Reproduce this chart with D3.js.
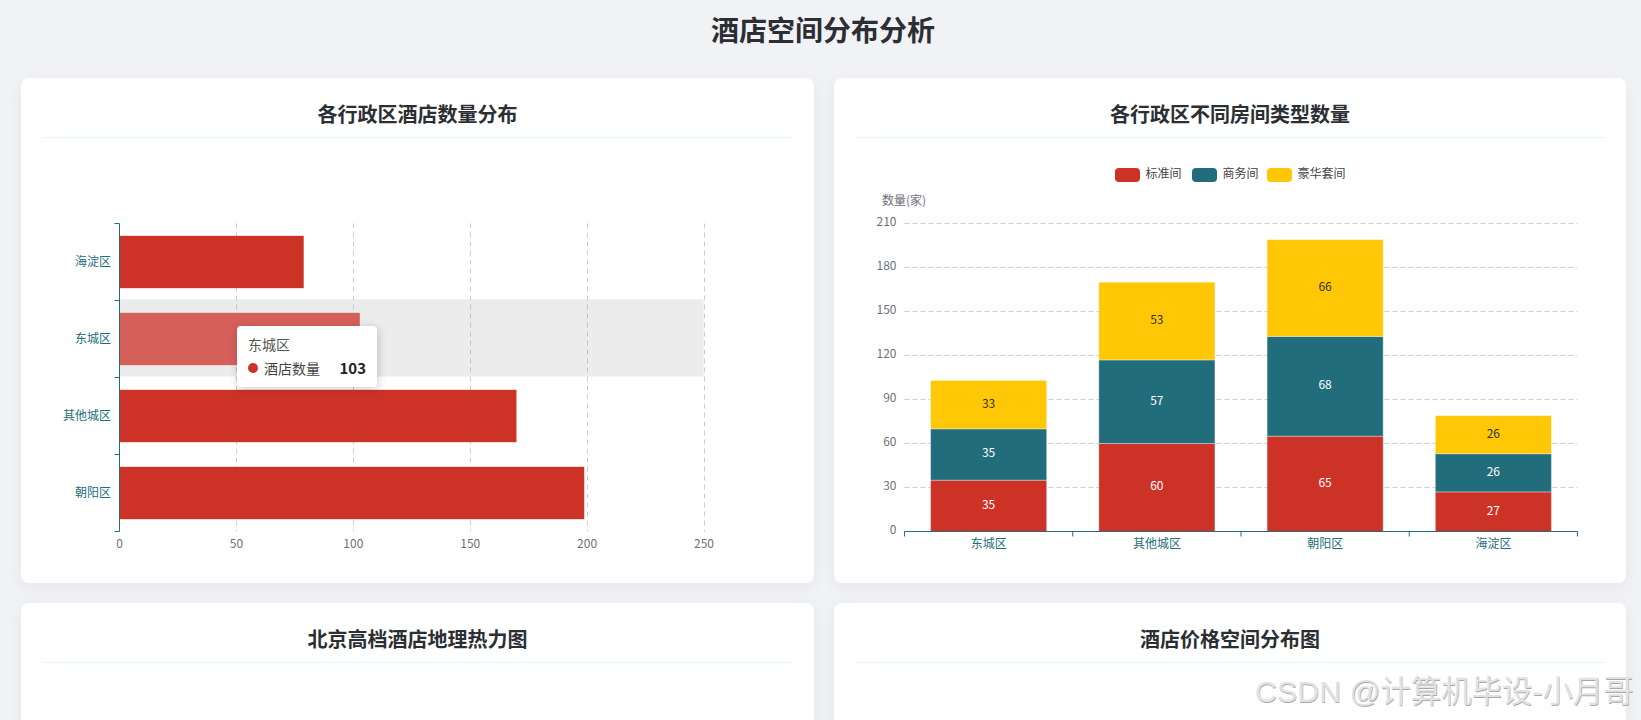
<!DOCTYPE html>
<html lang="zh">
<head>
<meta charset="utf-8">
<title>酒店空间分布分析</title>
<script src="https://cdn.jsdelivr.net/npm/d3@7"></script>
<style>
  html, body { margin: 0; padding: 0; width: 1641px; height: 720px; overflow: hidden; background: #f0f2f6; }
  body { position: relative; font-family: "Noto Sans CJK SC", "Noto Sans", sans-serif; color: #2b2f33; }
  h1 { position: absolute; left: 0; width: 1646px; top: 10px; margin: 0; text-align: center; font-size: 28px; line-height: 38px; font-weight: 700; }
  .card { position: absolute; background: #fff; border-radius: 8px; box-shadow: 0 4px 16px rgba(0,0,0,.05); }
  .card h2 { position: absolute; left: 21px; right: 21px; top: 23px; height: 36px; margin: 0; border-bottom: 1px solid #e3f6f8; text-align: center; font-size: 20px; line-height: 26px; font-weight: 700; }
  svg { position: absolute; left: 0; top: 0; }
  svg text { font-family: "Noto Sans CJK SC", "Noto Sans", sans-serif; font-size: 12px; }
  #tooltip { position: absolute; left: 237px; top: 326px; width: 140px; height: 61px; background: #fff; border-radius: 4px; box-shadow: 1px 2px 10px rgba(0,0,0,.2); font-size: 14px; }
  #tooltip .name { position: absolute; left: 11px; top: 8px; line-height: 20px; color: #555; }
  #tooltip .dot { position: absolute; left: 11px; top: 37px; width: 10px; height: 10px; border-radius: 50%; }
  #tooltip .series { position: absolute; left: 27px; top: 32px; line-height: 20px; color: #444; }
  #tooltip .val { position: absolute; right: 11px; top: 32px; line-height: 20px; color: #222; font-weight: 700; font-size: 15px; }
  #watermark { position: absolute; left: 1255px; top: 671px; font-family: "Liberation Sans", "Noto Sans CJK SC", sans-serif; font-size: 30.4px; line-height: 40px; white-space: nowrap; color: #e2e2e2; text-shadow: 0.6px 0.6px 0.6px #a8a8a8; }
</style>
</head>
<body>
<script>
const pageTitle = "酒店空间分布分析";
const cardTitles = ["各行政区酒店数量分布", "各行政区不同房间类型数量", "北京高档酒店地理热力图", "酒店价格空间分布图"];

// bar chart, bottom to top
const countDistricts = ["朝阳区", "其他城区", "东城区", "海淀区"];
const countValues = [199, 170, 103, 79];
const countTicks = [0, 50, 100, 150, 200, 250];
const hoverDistrict = "东城区";

// stacked chart
const roomDistricts = ["东城区", "其他城区", "朝阳区", "海淀区"];
const roomTypes = ["标准间", "商务间", "豪华套间"];
const standardRooms = [35, 60, 65, 27];
const businessRooms = [35, 57, 68, 26];
const luxuryRooms = [33, 53, 66, 26];
const roomTicks = [0, 30, 60, 90, 120, 150, 180, 210];
const roomSeries = [standardRooms, businessRooms, luxuryRooms];

const red = "#cd3227";
const teal = "#226d7c";
const yellow = "#ffc706";
const gray = "#6e7079";
const typeColors = [red, teal, yellow];
const labelColors = ["#fff", "#fff", "#333"];

const body = d3.select("body");
body.append("h1").text(pageTitle);

const cards = [
  { x: 21, y: 78, w: 793, h: 505 },
  { x: 834, y: 78, w: 792, h: 505 },
  { x: 21, y: 603, w: 793, h: 300 },
  { x: 834, y: 603, w: 792, h: 300 }
];
cards.forEach(function(c, i) {
  body.append("div").attr("class", "card")
    .style("left", c.x + "px").style("top", c.y + "px")
    .style("width", c.w + "px").style("height", c.h + "px")
    .append("h2").text(cardTitles[i]);
});

const svg = body.append("svg").attr("width", 1641).attr("height", 720);

function styleAxis(g, color) {
  g.selectAll("path, line").attr("stroke", color);
  g.selectAll("text").attr("fill", color);
}

/* ---- left: horizontal bars ---- */
const x1 = d3.scaleLinear().domain([0, 250]).range([119, 703.5]);
const y1 = d3.scaleBand().domain(countDistricts).range([531.5, 223.5]).paddingInner(0.32).paddingOuter(0.16);
const left = svg.append("g");

left.append("g").selectAll("line").data(countTicks.slice(1)).enter().append("line")
  .attr("x1", d => Math.round(x1(d)) + 0.5).attr("x2", d => Math.round(x1(d)) + 0.5)
  .attr("y1", 223.5).attr("y2", 531.5)
  .attr("stroke", "#ccc").attr("stroke-dasharray", "5,4");

// hover shadow behind the 东城区 bar
left.append("rect")
  .attr("x", x1(0)).attr("width", x1(250) - x1(0))
  .attr("y", y1(hoverDistrict) + y1.bandwidth() / 2 - y1.step() / 2 - 1)
  .attr("height", y1.step())
  .attr("fill", "#969696").attr("fill-opacity", 0.18);

left.append("g").selectAll("rect").data(countDistricts).enter().append("rect")
  .attr("x", x1(0))
  .attr("y", d => y1(d))
  .attr("width", (d, i) => x1(countValues[i]) - x1(0))
  .attr("height", y1.bandwidth())
  .attr("fill", d => d === hoverDistrict ? "#d5605a" : red);

const axisX1 = left.append("g").attr("transform", "translate(0,531.5)")
  .call(d3.axisBottom(x1).tickValues(countTicks).tickSize(0).tickPadding(8));
axisX1.select("path").remove();
styleAxis(axisX1, gray);

// d3 adds its own half pixel to the domain path
const axisY1 = left.append("g").attr("transform", "translate(119,0)")
  .call(d3.axisLeft(y1).tickSize(0).tickPadding(8));
axisY1.select("path").attr("d", "M0.5,223.5V531.5");
styleAxis(axisY1, teal);
// ticks sit between the categories
left.append("g").selectAll("line")
  .data(d3.range(countDistricts.length + 1)).enter().append("line")
  .attr("x1", 114.5).attr("x2", 119.5)
  .attr("y1", i => 531.5 - i * y1.step()).attr("y2", i => 531.5 - i * y1.step())
  .attr("stroke", teal);

/* ---- right: stacked bars ---- */
const x2 = d3.scaleBand().domain(roomDistricts).range([904.5, 1577.5]).paddingInner(0.31).paddingOuter(0.155);
const y2 = d3.scaleLinear().domain([0, 210]).range([531.5, 223.5]);
const right = svg.append("g");

right.append("g").selectAll("line").data(roomTicks.slice(1)).enter().append("line")
  .attr("x1", 904.5).attr("x2", 1577.5)
  .attr("y1", d => y2(d)).attr("y2", d => y2(d))
  .attr("stroke", "#ccc").attr("stroke-dasharray", "5,3");

const stacked = d3.stack().keys(d3.range(roomTypes.length)).value((d, k) => roomSeries[k][d])(d3.range(roomDistricts.length));

const layers = right.selectAll(".layer").data(stacked).enter().append("g").attr("class", "layer");
layers.selectAll("rect").data(d => d).enter().append("rect")
  .attr("x", d => x2(roomDistricts[d.data]))
  .attr("width", x2.bandwidth())
  .attr("y", d => y2(d[1]))
  .attr("height", d => y2(d[0]) - y2(d[1]))
  .attr("fill", function() { return typeColors[d3.select(this.parentNode).datum().key]; })
  .attr("stroke", "#fff").attr("stroke-opacity", 0.35);

layers.selectAll("text").data(d => d).enter().append("text")
  .attr("x", d => x2(roomDistricts[d.data]) + x2.bandwidth() / 2)
  .attr("y", d => (y2(d[0]) + y2(d[1])) / 2)
  .attr("dy", "0.24em")
  .attr("text-anchor", "middle")
  .attr("fill", function() { return labelColors[d3.select(this.parentNode).datum().key]; })
  .text(d => d[1] - d[0]);

const axisY2 = right.append("g").attr("transform", "translate(904.5,0)")
  .call(d3.axisLeft(y2).tickValues(roomTicks).tickSize(0).tickPadding(8));
axisY2.select("path").remove();
axisY2.selectAll("text").attr("dy", "0.2em");
styleAxis(axisY2, gray);

const axisX2 = right.append("g").attr("transform", "translate(0,531.5)")
  .call(d3.axisBottom(x2).tickSize(0).tickPadding(8));
axisX2.select("path").attr("d", "M904.5,0H1577.5");
styleAxis(axisX2, teal);
right.append("g").selectAll("line")
  .data(d3.range(roomDistricts.length + 1)).enter().append("line")
  .attr("x1", i => 904.5 + i * x2.step()).attr("x2", i => 904.5 + i * x2.step())
  .attr("y1", 531.5).attr("y2", 536.5)
  .attr("stroke", teal);

right.append("text").attr("x", 882).attr("y", 201).attr("dy", "0.32em").attr("fill", gray).text("数量(家)");

// legend, each entry is swatch + label
const legendX = [1115, 1192, 1267];
const legend = right.selectAll(".legend").data(roomTypes).enter().append("g")
  .attr("class", "legend")
  .attr("transform", (d, i) => "translate(" + legendX[i] + ",168)");
legend.append("rect").attr("width", 25).attr("height", 14).attr("rx", 4).attr("fill", (d, i) => typeColors[i]);
legend.append("text").attr("x", 30.5).attr("y", 6.5).attr("dy", "0.32em").attr("fill", "#444").text(d => d);

/* ---- tooltip ---- */
const tip = body.append("div").attr("id", "tooltip");
tip.append("div").attr("class", "name").text(hoverDistrict);
tip.append("div").attr("class", "dot").style("background", red);
tip.append("div").attr("class", "series").text("酒店数量");
tip.append("div").attr("class", "val").text(countValues[countDistricts.indexOf(hoverDistrict)]);

body.append("div").attr("id", "watermark").text("CSDN @计算机毕设-小月哥");
</script>
</body>
</html>
